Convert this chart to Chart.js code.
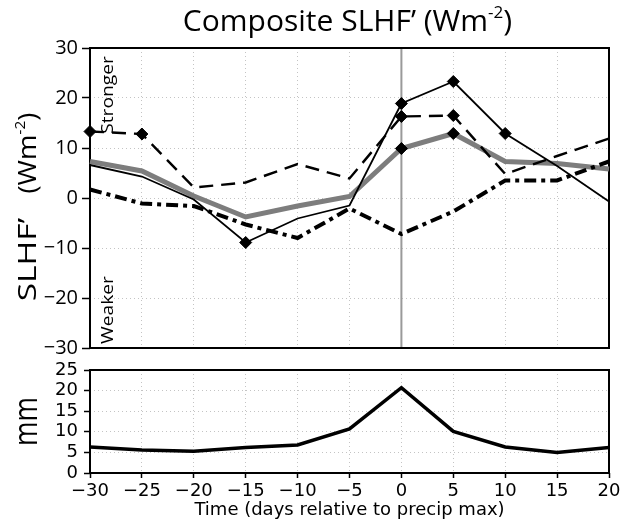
<!DOCTYPE html>
<html><head><meta charset="utf-8">
<script src="https://cdn.jsdelivr.net/npm/chart.js@4"></script>
<style>
html,body{margin:0;padding:0;background:#fff;}
#wrap{position:relative;width:625px;height:527px;overflow:hidden;background:#fff;}
canvas{position:absolute;left:0;}
#c2{top:350px;} #c1{top:0;}
</style></head><body>
<div id="wrap"><canvas id="c2" width="625" height="177"></canvas><canvas id="c1" width="625" height="380"></canvas></div>
<script>
// ---- data ----
const days = [-30, -25, -20, -15, -10, -5, 0, 5, 10, 15, 20];
const slhfSolid     = [6.6, 4.3, -0.3, -8.9, -4.1, -1.5, 18.9, 23.3, 12.9, 6.4, -0.7];
const slhfSolidSig  = [0, 0, 0, 1, 0, 0, 1, 1, 1, 0, 0];
const slhfDashed    = [13.3, 12.8, 2.1, 3.1, 6.8, 3.9, 16.3, 16.5, 4.8, 8.4, 11.9];
const slhfDashedSig = [1, 1, 0, 0, 0, 0, 1, 1, 0, 0, 0];
const slhfGray      = [7.3, 5.4, 0.4, -3.8, -1.6, 0.3, 9.9, 12.9, 7.3, 6.9, 5.8];
const slhfGraySig   = [0, 0, 0, 0, 0, 0, 1, 1, 0, 0, 0];
const slhfDashDot   = [1.7, -1.1, -1.6, -5.3, -8.0, -2.1, -7.2, -2.7, 3.5, 3.5, 7.3];
const precip        = [6.3, 5.6, 5.3, 6.2, 6.8, 10.7, 20.7, 10.1, 6.3, 5.0, 6.2];
const dayTicks    = [-30, -25, -20, -15, -10, -5, 0, 5, 10, 15, 20];
const slhfTicks   = [-30, -20, -10, 0, 10, 20, 30];
const precipTicks = [0, 5, 10, 15, 20, 25];
const refDay = 0;
const titleText = 'Composite SLHF’ (Wm';
const yTitleMain = 'SLHF’';
const yTitleUnit = '(Wm';
const supText = '-2';
const strongerText = 'Stronger';
const weakerText = 'Weaker';
const precipUnit = 'mm';
const xTitle = 'Time (days relative to precip max)';

// ---- helpers ----
const OS = '"Open Sans", "Noto Sans", sans-serif';
function fmt(v){ return v < 0 ? '\u2212' + Math.abs(v) : String(v); }
function pts(arr){ return days.map((d,i)=>({x:d, y:arr[i]})); }
function radii(sig){ return sig.map(s => s ? 6 : 0); }
function drawRich(ctx, parts, x, y, rot, stretch){
  ctx.save();
  ctx.translate(x, y);
  ctx.rotate(rot);
  ctx.scale(stretch || 1, 1);
  let total = 0;
  for (const p of parts){ ctx.font = p.font; p.w = ctx.measureText(p.t).width * (p.sx || 1); total += p.w + (p.gap||0); }
  let cx = -total/2;
  ctx.fillStyle = '#000'; ctx.textAlign = 'left'; ctx.textBaseline = 'alphabetic';
  for (const p of parts){
    ctx.font = p.font;
    ctx.save(); ctx.translate(cx, -(p.rise||0)); ctx.scale(p.sx || 1, 1);
    ctx.fillText(p.t, 0, 0);
    ctx.restore();
    cx += p.w + (p.gap||0);
  }
  ctx.restore();
}
function line(data, sig, color, width, dash){
  return {
    data: pts(data), borderColor: color, borderWidth: width, borderDash: dash || [],
    borderCapStyle: 'butt', borderJoinStyle: 'miter', tension: 0, clip: false,
    pointStyle: 'rectRot', pointRadius: sig ? radii(sig) : 0, pointHoverRadius: 0,
    pointBackgroundColor: '#000', pointBorderColor: '#000', pointBorderWidth: 1
  };
}
const gridC = '#c4c4c4';

function build(){
// ---- top chart ----
const topPlugin = {
  id: 'topDeco',
  beforeDatasetsDraw(chart){
    const {ctx, chartArea: a, scales} = chart;
    const xr = scales.x.getPixelForValue(refDay);
    ctx.save();
    ctx.strokeStyle = '#9a9a9a'; ctx.lineWidth = 2;
    ctx.beginPath(); ctx.moveTo(xr, a.top); ctx.lineTo(xr, a.bottom); ctx.stroke();
    ctx.strokeStyle = '#000'; ctx.lineWidth = 2;
    ctx.strokeRect(a.left, a.top, a.right - a.left, a.bottom - a.top);
    ctx.restore();
  },
  afterDraw(chart){
    const {ctx, chartArea: a} = chart;
    const cxp = (a.left + a.right) / 2;
    drawRich(ctx, [
      {t: titleText, font: '30px ' + OS},
      {t: supText, font: '17px ' + OS, rise: 13},
      {t: ')', font: '30px ' + OS}
    ], cxp - 2, 31, 0, 1);
    drawRich(ctx, [
      {t: yTitleMain, font: '25px ' + OS, gap: 22, sx: 1.22},
      {t: yTitleUnit, font: '25px ' + OS},
      {t: supText, font: '14px ' + OS, rise: 11},
      {t: ')', font: '25px ' + OS}
    ], 36, 207, -Math.PI/2, 1.1);
    drawRich(ctx, [{t: strongerText, font: '16px ' + OS}], 113, 95, -Math.PI/2, 1.2);
    drawRich(ctx, [{t: weakerText, font: '16px ' + OS}], 113, 310, -Math.PI/2, 1.2);
  }
};

new Chart(document.getElementById('c1'), {
  type: 'line',
  data: { datasets: [
    line(slhfSolid, slhfSolidSig, '#000', 1.8),
    line(slhfDashed, slhfDashedSig, '#000', 2.4, [14, 8]),
    line(slhfDashDot, null, '#000', 4, [12, 5, 4, 5]),
    line(slhfGray, slhfGraySig, '#7d7d7d', 5)
  ]},
  options: {
    responsive: false, animation: false, devicePixelRatio: 1,
    layout: { padding: { top: 48, right: 16, bottom: 32, left: 0 } },
    plugins: { legend: { display: false }, tooltip: { enabled: false }, title: { display: false } },
    scales: {
      x: {
        type: 'linear', min: -30, max: 20,
        afterBuildTicks: s => { s.ticks = dayTicks.map(v => ({value: v})); },
        ticks: { display: false },
        grid: { color: gridC, lineWidth: 1, drawTicks: false },
        border: { display: false, dash: [1, 3] },
        afterFit: s => { s.height = 0; }
      },
      y: {
        type: 'linear', min: -30, max: 30,
        afterBuildTicks: s => { s.ticks = slhfTicks.map(v => ({value: v})); },
        ticks: { color: '#000', padding: 4, autoSkip: false, font: { family: OS, size: 20 }, callback: v => fmt(v) },
        grid: { color: gridC, lineWidth: 1, drawTicks: true, tickLength: 8, tickColor: '#000', tickWidth: 1.5 },
        border: { display: false, dash: [1, 3] },
        afterFit: s => { s.width = 90; }
      }
    }
  },
  plugins: [topPlugin]
});

// ---- bottom chart ----
const botPlugin = {
  id: 'botDeco',
  beforeDatasetsDraw(chart){
    const {ctx, chartArea: a} = chart;
    ctx.save();
    ctx.strokeStyle = '#000'; ctx.lineWidth = 2;
    ctx.strokeRect(a.left, a.top, a.right - a.left, a.bottom - a.top);
    ctx.restore();
  },
  afterDraw(chart){
    const {ctx, chartArea: a} = chart;
    drawRich(ctx, [{t: precipUnit, font: '33px ' + OS}], 37, (a.top + a.bottom) / 2, -Math.PI/2, 0.8);
  }
};

new Chart(document.getElementById('c2'), {
  type: 'line',
  data: { datasets: [ line(precip, null, '#000', 3.5) ] },
  options: {
    responsive: false, animation: false, devicePixelRatio: 1,
    layout: { padding: { top: 20, right: 16, bottom: 0, left: 0 } },
    plugins: { legend: { display: false }, tooltip: { enabled: false } },
    scales: {
      x: {
        type: 'linear', min: -30, max: 20,
        afterBuildTicks: s => { s.ticks = dayTicks.map(v => ({value: v})); },
        ticks: { color: '#000', padding: 3, maxRotation: 0, autoSkip: false, font: { family: 'DejaVu Sans', size: 18 }, callback: v => fmt(v) },
        grid: { color: gridC, lineWidth: 1, drawTicks: true, tickLength: 5, tickColor: '#000', tickWidth: 1.5 },
        border: { display: false, dash: [1, 3] },
        title: { display: true, text: xTitle, color: '#000', font: { family: 'DejaVu Sans', size: 18 }, padding: { top: 0, bottom: 6 } },
        afterFit: s => { s.height = 54; }
      },
      y: {
        type: 'linear', min: 0, max: 25,
        afterBuildTicks: s => { s.ticks = precipTicks.map(v => ({value: v})); },
        ticks: { color: '#000', padding: 6, autoSkip: false, font: { family: 'DejaVu Sans', size: 18 }, callback: v => fmt(v) },
        grid: { color: gridC, lineWidth: 1, drawTicks: true, tickLength: 6, tickColor: '#000', tickWidth: 1.5 },
        border: { display: false, dash: [1, 3] },
        afterFit: s => { s.width = 90; }
      }
    }
  },
  plugins: [botPlugin]
});
}

const fontReqs = ['28px "Open Sans"', '16px "Open Sans"', '18px "DejaVu Sans"'];
Promise.all(fontReqs.map(f => document.fonts.load(f).catch(() => null))).then(build, build);
</script>
</body></html>
